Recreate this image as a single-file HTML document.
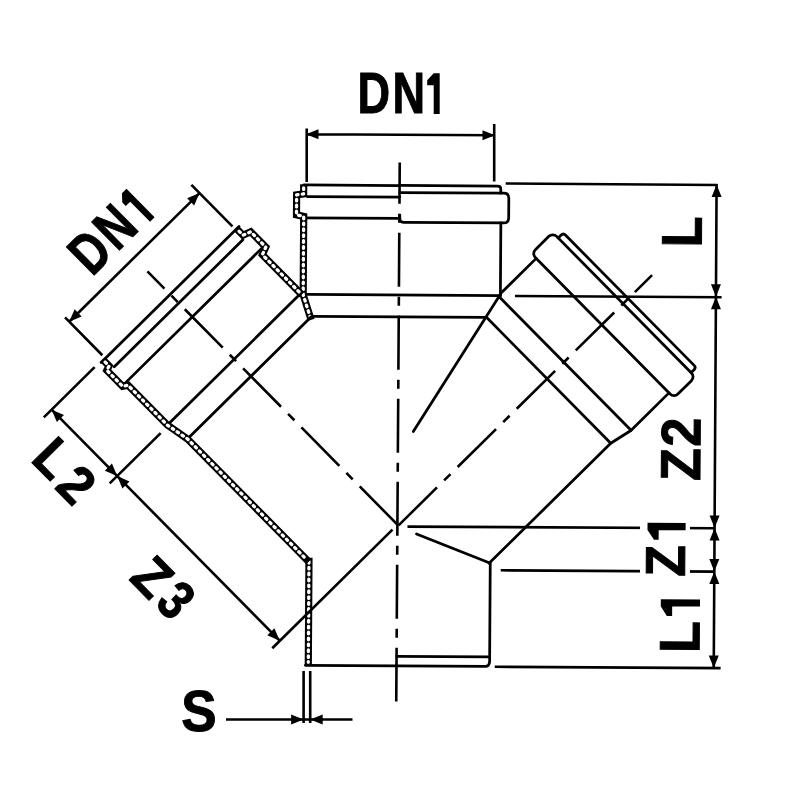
<!DOCTYPE html>
<html><head><meta charset="utf-8"><style>
html,body{margin:0;padding:0;background:#fff;}
svg{display:block;will-change:transform;}
.o{fill:none;stroke:#000;stroke-width:2.75;stroke-linecap:round;stroke-linejoin:round;}
.d{fill:none;stroke:#000;stroke-width:2.6;stroke-linecap:butt;}
.hw{fill:none;stroke:#000;stroke-linecap:square;stroke-linejoin:miter;}
.hd{fill:none;stroke:#fff;stroke-width:3.3;stroke-dasharray:1.6 4.3;stroke-linecap:round;stroke-linejoin:round;}
.cl{fill:none;stroke:#000;stroke-width:2.6;stroke-dasharray:54 10 9 10;}
.lb text{font-family:"Liberation Sans",sans-serif;font-weight:bold;fill:#000;stroke:#000;stroke-width:1;}
.lb path{fill:#000;stroke:none;}
</style></head><body>
<svg width="800" height="800" viewBox="0 0 800 800">
<defs><path id="ar" d="M0,0 L-12.5,-5 L-12.5,5 Z" fill="#000"/></defs>
<g transform="translate(397.8,525.0) rotate(0.37)">
<path class="o" d="M0,-339.6 H97.8 Q100.8,-339.6 100.8,-336.6 V-332.5"/>
<path class="o" d="M0,-332.5 H103.9 Q108.9,-332.5 108.9,-327.5 V-307.7 Q108.9,-302.7 103.9,-302.7 H3.5 Q0,-302.7 0,-306.2 V-310"/>
<path class="o" d="M101.1,-302.7 V-230"/>
<path class="o" d="M0,-339.5 H-96"/>
<path class="o" d="M-92.7,-327.9 H0"/>
<path class="o" d="M-99.7,-306.6 H0"/>
<path class="hw" style="stroke-width:7.2" d="M-96.3,-336.6 V-330.5 L-103.3,-329.5 V-309.5 L-96.1,-308 V-229.6 L-89.1,-208"/><path class="hd" d="M-96.3,-336.6 V-330.5 L-103.3,-329.5 V-309.5 L-96.1,-308 V-229.6 L-89.1,-208"/>
<path class="o" d="M-92.4,-230 H101.1"/>
<path class="o" d="M-85.5,-208.1 H87.1"/>
<path class="hw" style="stroke-width:7.2" d="M-88.6,37 V137.8"/><path class="hd" d="M-88.6,37 V137.8"/>
<path class="o" d="M-91.5,140.9 H88.4 Q92.4,140.9 92.7,136 V37.5"/>
<path class="o" d="M0,131.4 H92.7"/>
<g transform="rotate(-45)">
<path class="o" d="M-97,-324 H96.7"/>
<path class="o" d="M-90.6,-311.8 H90.1"/>
<path class="o" d="M-96.5,-292.5 H97.8"/>
<path class="o" d="M-90.1,-233 H90.6"/>
<path class="o" d="M-86.5,-209 H84.7"/>
<path class="hw" style="stroke-width:7.2" d="M-93.8,-321.5 V-316 L-98.4,-314.5 V-292 L-93.8,-289 V-233 L-89.2,-209 V-40"/><path class="hd" d="M-93.8,-321.5 V-316 L-98.4,-314.5 V-292 L-93.8,-289 V-233 L-89.2,-209 V-40"/>
<path class="hw" style="stroke-width:7.2" d="M93.4,-320.5 V-315 L101.3,-312 V-290.5 L93.5,-287.5 V-235"/><path class="hd" d="M93.4,-320.5 V-315 L101.3,-312 V-290.5 L93.5,-287.5 V-235"/>
</g>
<g transform="rotate(45)">
<path class="o" d="M-91.6,-315.8 V-320 Q-91.6,-323 -88.6,-323 H94.6 Q97.6,-323 97.6,-320 V-315.8"/>
<rect class="o" x="-99.3" y="-315.8" width="202.9" height="30" rx="5.5"/>
<path class="o" d="M-92.5,-285.8 V-235.4"/>
<path class="o" d="M96.5,-285.8 V-232.3 L91.4,-209 V-38"/>
<path class="o" d="M-91.2,-232.5 H96.5"/>
<path class="o" d="M-85.5,-209 H91.4"/>
</g>
<path class="cl" d="M-0.4,-362.5 V176.6" style="stroke-dashoffset:12.7"/>
<g transform="rotate(-45)"><path class="cl" d="M0,-356.4 V0" style="stroke-dashoffset:29.8"/></g>
<g transform="rotate(45)"><path class="cl" d="M0.8,-356.5 V0" style="stroke-dashoffset:29.8"/></g>
<g transform="rotate(-45)">
<path class="d" d="M-91,-328.4 V-381.5 M92.1,-328.7 V-387.1 M-91,-375.5 H92.1"/>
<use href="#ar" transform="translate(-91,-375.5) rotate(180)"/>
<use href="#ar" transform="translate(92.1,-375.5)"/>
<path class="d" d="M-104.9,-325.3 H-176.3 M-104.2,-232 H-175.8 M-7,-0.5 H-175.9 M-165.3,-325.3 V-0.7"/>
<use href="#ar" transform="translate(-165.3,-325.3) rotate(-90)"/>
<use href="#ar" transform="translate(-165.3,-232) rotate(90)"/>
<use href="#ar" transform="translate(-165.3,-232) rotate(-90)"/>
<use href="#ar" transform="translate(-165.3,-0.7) rotate(90)"/>
</g>
</g>
<path class="o" d="M500.6,294 L413.3,431.6"/>
<path class="o" d="M416.5,534 L488.5,562.5"/>
<path class="d" d="M306.7,128.5 V182 M494.2,124 V181.4 M306.7,134.2 L494.2,135.3"/>
<use href="#ar" transform="translate(306,134.2) rotate(180.33)"/>
<use href="#ar" transform="translate(495,135.3) rotate(0.33)"/>
<path class="d" d="M505.7,183.5 L717.5,185 M515,296 L721.6,297.2 M407.5,526.6 L714,528.2 M500.7,570.3 L714,571.6 M494.7,666.8 L720.6,668.1 M716.6,184 L713.75,668"/>
<use href="#ar" transform="translate(716.60,184.6) rotate(-90)"/>
<use href="#ar" transform="translate(715.94,296.8) rotate(90)"/>
<use href="#ar" transform="translate(715.94,296.8) rotate(-90)"/>
<use href="#ar" transform="translate(714.57,528.1) rotate(90)"/>
<use href="#ar" transform="translate(714.57,528.1) rotate(-90)"/>
<use href="#ar" transform="translate(714.32,571.5) rotate(90)"/>
<use href="#ar" transform="translate(714.32,571.5) rotate(-90)"/>
<use href="#ar" transform="translate(713.75,668) rotate(90)"/>
<rect x="640" y="518" width="50" height="62" fill="#fff"/>
<path class="d" d="M303.6,671 V723 M310.2,671 V723 M226,719.5 H352.5"/>
<use href="#ar" transform="translate(303.6,719.5)"/>
<use href="#ar" transform="translate(310.2,719.5) rotate(180)"/>
<g class="lb" transform="translate(360.1,113.9)"><text transform="translate(-2.52,-0.50) scale(0.776,1)" font-size="58.14">D</text><text transform="translate(32.38,-0.50) scale(0.776,1)" font-size="58.14">N</text><path transform="translate(0,0)" d="M73.60,-40.60 H79.60 V0 H73.60 V-28.70 H67.10 V-33.70 Z"/></g>
<g class="lb" transform="translate(702.1,244.4) rotate(-89.63)"><text transform="translate(-3.20,-0.50) scale(0.890,1)" font-size="56.98">L</text></g>
<g class="lb" transform="translate(700.5,480) rotate(-89.63)"><text transform="translate(-1.11,-0.50) scale(0.949,1)" font-size="56.40">Z</text><text transform="translate(33.18,-0.50) scale(0.937,1)" font-size="55.59">2</text></g>
<g class="lb" transform="translate(685.3,575.6) rotate(-89.63)"><text transform="translate(-1.05,-0.50) scale(0.919,1)" font-size="56.10">Z</text><path transform="translate(0,0)" d="M45.30,-38.10 H52.50 V0 H45.30 V-26.90 H35.60 V-31.50 Z"/></g>
<g class="lb" transform="translate(699.7,650) rotate(-89.63)"><text transform="translate(-2.98,-0.50) scale(0.914,1)" font-size="56.83">L</text><path transform="translate(0,0)" d="M43.40,-39.20 H50.40 V0 H43.40 V-27.80 H33.75 V-33.10 Z"/></g>
<g class="lb" transform="translate(94.1,275.9) rotate(-44.63)"><text transform="translate(-2.52,-0.50) scale(0.784,1)" font-size="57.56">D</text><text transform="translate(32.98,-0.50) scale(0.784,1)" font-size="57.56">N</text><path transform="translate(0,0.8)" d="M77.80,-40.00 H84.20 V0 H77.80 V-28.20 H71.60 V-33.20 Z"/></g>
<g class="lb" transform="translate(31.2,462.7) rotate(45.37)"><text transform="translate(-2.90,-0.50) scale(0.934,1)" font-size="54.36">L</text><text transform="translate(33.32,1.50) scale(0.954,1)" font-size="53.30">2</text></g>
<g class="lb" transform="translate(128.25,580) rotate(45.37)"><text transform="translate(-1.04,-0.50) scale(0.942,1)" font-size="54.51">Z</text><text transform="translate(35.25,-1.05) scale(0.827,1)" font-size="55.37">3</text></g>
<g class="lb" transform="translate(182.2,732.4)"><text transform="translate(-1.04,-1.02) scale(0.923,1)" font-size="57.43">S</text></g>
</svg>
</body></html>
